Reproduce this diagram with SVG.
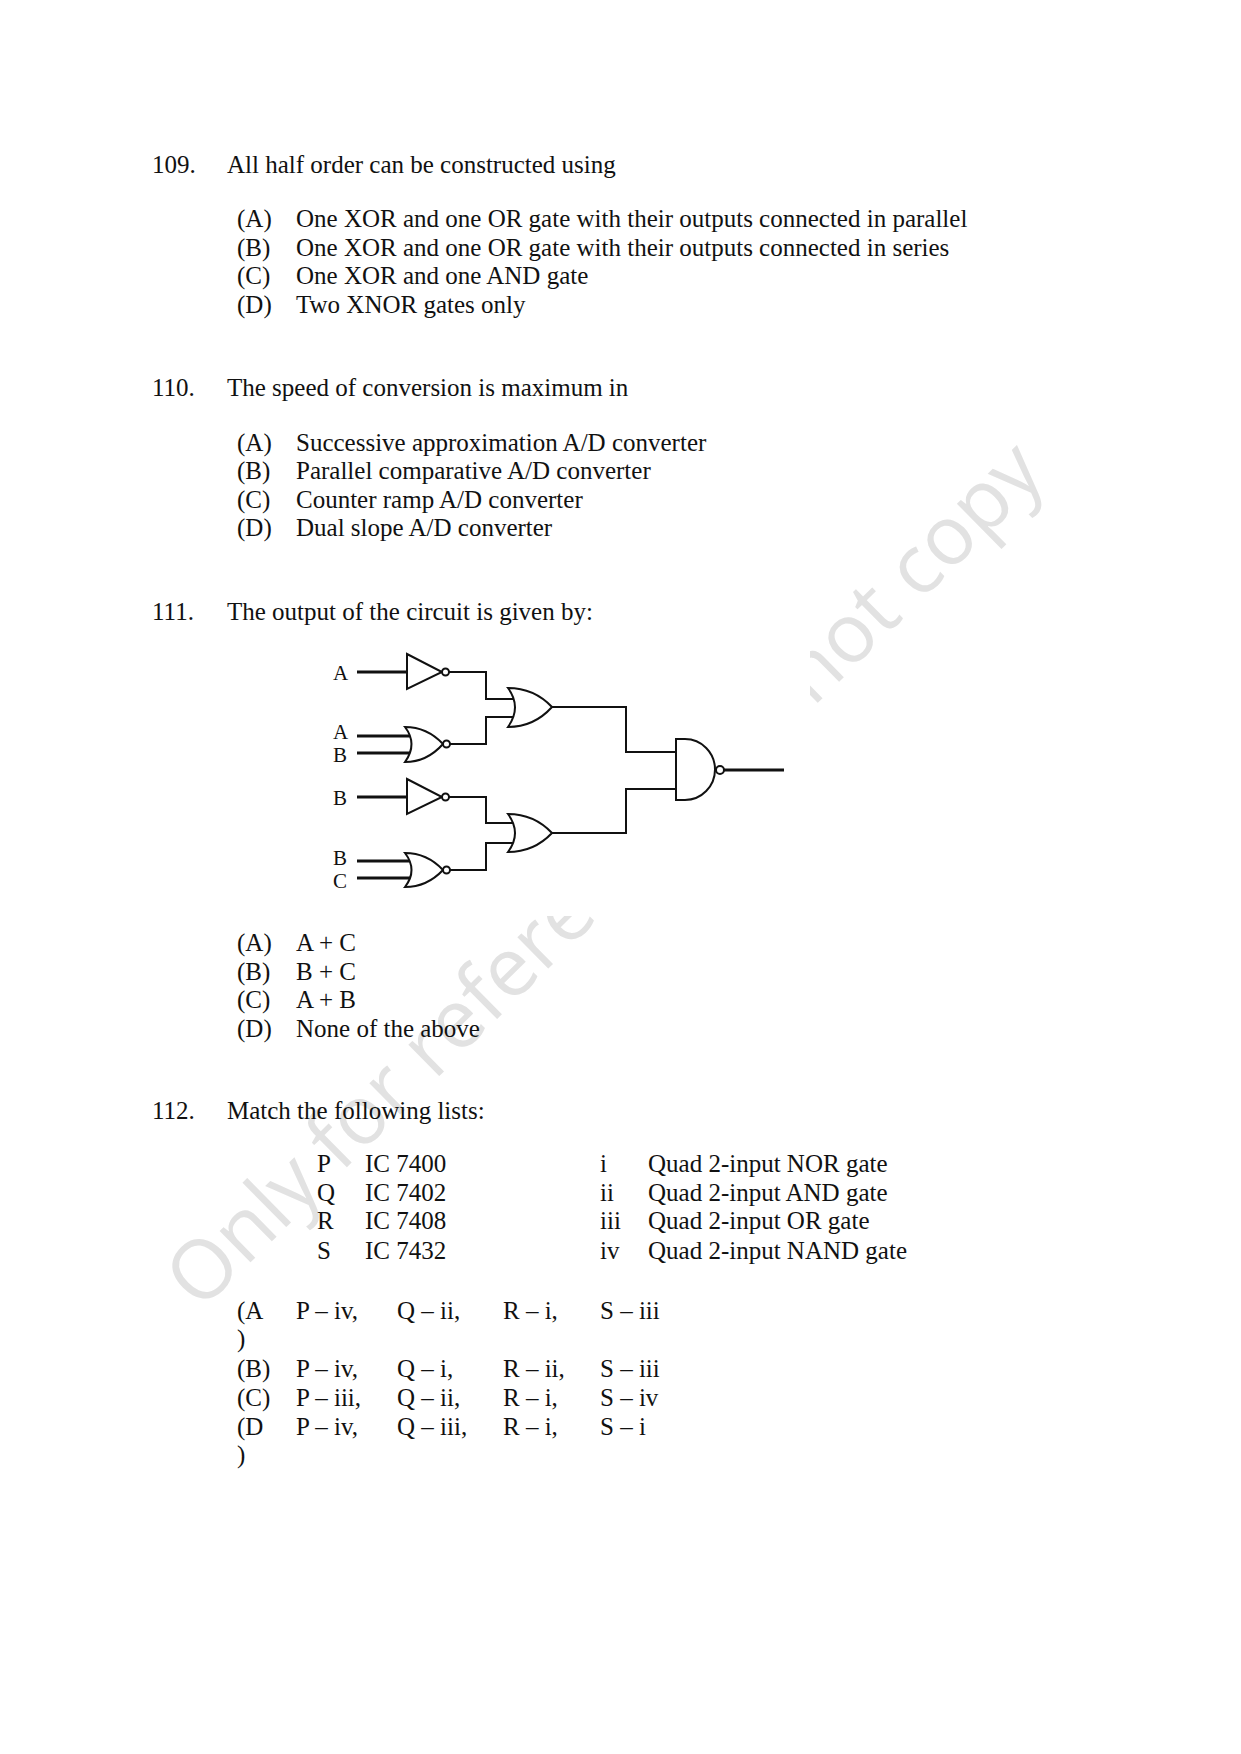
<svg xmlns="http://www.w3.org/2000/svg" width="1241" height="1754" viewBox="0 0 1241 1754">
<style>
text{font-family:"Liberation Serif",serif;font-size:25px;fill:#111}
.wm{font-family:"Open Sans","DejaVu Sans",sans-serif;font-size:82px;fill:#e2e2e2}
.w{fill:none;stroke:#111;stroke-width:2}
.t{fill:none;stroke:#111;stroke-width:3}
.g{fill:#fff;stroke:#111;stroke-width:2}
.lbl{font-size:21px}
</style>
<rect width="1241" height="1754" fill="#fff"/>
<text class="wm" transform="translate(200,1312) rotate(-44.6)">Only for reference, do not copy</text>
<rect x="320" y="642" width="490" height="274" fill="#fff"/>
<g id="q109">
<text x="152" y="173">109.</text><text x="227" y="173">All half order can be constructed using</text>
<text x="237" y="227">(A)</text><text x="296" y="227">One XOR and one OR gate with their outputs connected in parallel</text>
<text x="237" y="256">(B)</text><text x="296" y="256">One XOR and one OR gate with their outputs connected in series</text>
<text x="237" y="284">(C)</text><text x="296" y="284">One XOR and one AND gate</text>
<text x="237" y="313">(D)</text><text x="296" y="313">Two XNOR gates only</text>
</g>
<g id="q110">
<text x="152" y="396">110.</text><text x="227" y="396">The speed of conversion is maximum in</text>
<text x="237" y="451">(A)</text><text x="296" y="451">Successive approximation A/D converter</text>
<text x="237" y="479">(B)</text><text x="296" y="479">Parallel comparative A/D converter</text>
<text x="237" y="508">(C)</text><text x="296" y="508">Counter ramp A/D converter</text>
<text x="237" y="536">(D)</text><text x="296" y="536">Dual slope A/D converter</text>
</g>
<g id="q111">
<text x="152" y="620">111.</text><text x="227" y="620">The output of the circuit is given by:</text>
</g>
<g id="labels">
<text class="lbl" x="333" y="680">A</text>
<text class="lbl" x="333" y="739">A</text>
<text class="lbl" x="333" y="762">B</text>
<text class="lbl" x="333" y="805">B</text>
<text class="lbl" x="333" y="865">B</text>
<text class="lbl" x="333" y="888">C</text>
</g>
<g id="connectors">
<path class="t" d="M357 672H407M357 736H416M357 753H416M357 797H407M357 861H416M357 878H416M715 770H784"/>
<path class="w" d="M449 672H486V699H516M449 744H486V717H516M552 707H626V752H676M449 797H486V823H516M449 870H486V843H516M552 833H626V789H676"/>
</g>
<g id="not1"><path class="g" d="M407 654L442 672L407 689Z"/><circle class="g" cx="445.5" cy="672" r="3.5"/></g>
<g id="nor1"><path class="g" d="M405 727Q427 727 443 744Q427 762 405 762Q418 744 405 727Z"/><circle class="g" cx="446.5" cy="744" r="3.5"/></g>
<g id="or1"><path class="g" d="M508 688Q534 688 552 707Q534 727 508 727Q522 707 508 688Z"/></g>
<g id="not2"><path class="g" d="M407 779L442 797L407 814Z"/><circle class="g" cx="445.5" cy="797" r="3.5"/></g>
<g id="nor2"><path class="g" d="M405 853Q427 853 443 870Q427 887 405 887Q418 870 405 853Z"/><circle class="g" cx="446.5" cy="870" r="3.5"/></g>
<g id="or2"><path class="g" d="M508 814Q534 814 552 833Q534 852 508 852Q522 833 508 814Z"/></g>
<g id="nand"><path class="g" d="M676 739H685A30 30.5 0 0 1 685 800H676Z"/><circle class="g" cx="720" cy="770" r="4"/></g>
<g id="q111opts">
<text x="237" y="951">(A)</text><text x="296" y="951">A + C</text>
<text x="237" y="980">(B)</text><text x="296" y="980">B + C</text>
<text x="237" y="1008">(C)</text><text x="296" y="1008">A + B</text>
<text x="237" y="1037">(D)</text><text x="296" y="1037">None of the above</text>
</g>
<g id="q112">
<text x="152" y="1119">112.</text><text x="227" y="1119">Match the following lists:</text>
<text x="317" y="1172">P</text><text x="365" y="1172">IC 7400</text><text x="600" y="1172">i</text><text x="648" y="1172">Quad 2-input NOR gate</text>
<text x="317" y="1201">Q</text><text x="365" y="1201">IC 7402</text><text x="600" y="1201">ii</text><text x="648" y="1201">Quad 2-input AND gate</text>
<text x="317" y="1229">R</text><text x="365" y="1229">IC 7408</text><text x="600" y="1229">iii</text><text x="648" y="1229">Quad 2-input OR gate</text>
<text x="317" y="1259">S</text><text x="365" y="1259">IC 7432</text><text x="600" y="1259">iv</text><text x="648" y="1259">Quad 2-input NAND gate</text>
<text x="237" y="1319">(A</text><text x="237" y="1347">)</text>
<text x="296" y="1319">P – iv,</text><text x="397" y="1319">Q – ii,</text><text x="503" y="1319">R – i,</text><text x="600" y="1319">S – iii</text>
<text x="237" y="1377">(B)</text>
<text x="296" y="1377">P – iv,</text><text x="397" y="1377">Q – i,</text><text x="503" y="1377">R – ii,</text><text x="600" y="1377">S – iii</text>
<text x="237" y="1406">(C)</text>
<text x="296" y="1406">P – iii,</text><text x="397" y="1406">Q – ii,</text><text x="503" y="1406">R – i,</text><text x="600" y="1406">S – iv</text>
<text x="237" y="1435">(D</text><text x="237" y="1463">)</text>
<text x="296" y="1435">P – iv,</text><text x="397" y="1435">Q – iii,</text><text x="503" y="1435">R – i,</text><text x="600" y="1435">S – i</text>
</g>
</svg>
